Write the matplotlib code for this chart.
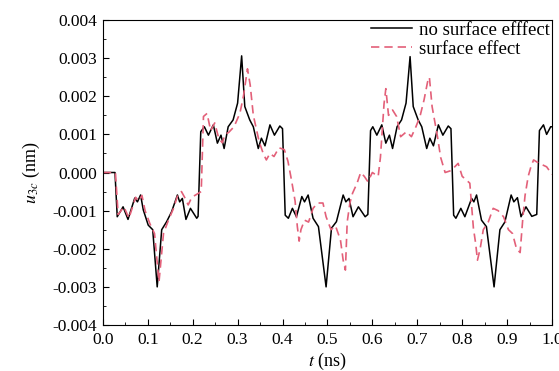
import matplotlib
matplotlib.use("Agg")
import matplotlib.pyplot as plt
from matplotlib.ticker import MultipleLocator

plt.rcParams["font.family"] = ["Liberation Serif", "DejaVu Serif"]
plt.rcParams["mathtext.fontset"] = "stix"
plt.rcParams["axes.unicode_minus"] = False

# no surface effect (black), u in 1e-3 nm
black_t = [0.000, 0.027, 0.032, 0.045, 0.056, 0.071, 0.077, 0.084, 0.090, 0.101,
           0.111, 0.121, 0.131, 0.142, 0.153, 0.166, 0.171, 0.177, 0.185, 0.195,
           0.209, 0.212, 0.218, 0.226, 0.235, 0.246, 0.255, 0.263, 0.270, 0.279,
           0.290, 0.300, 0.309, 0.316, 0.327, 0.335, 0.346, 0.353, 0.361, 0.372,
           0.382, 0.394, 0.400, 0.406, 0.413, 0.422, 0.431, 0.443, 0.449, 0.457,
           0.468, 0.480, 0.497, 0.509, 0.520, 0.535, 0.541, 0.548, 0.557, 0.569,
           0.584, 0.590, 0.596, 0.601, 0.610, 0.621, 0.630, 0.638, 0.645, 0.655,
           0.665, 0.675, 0.684, 0.691, 0.702, 0.710, 0.721, 0.728, 0.736, 0.747,
           0.757, 0.769, 0.775, 0.781, 0.786, 0.797, 0.806, 0.821, 0.826, 0.832,
           0.843, 0.854, 0.871, 0.884, 0.895, 0.909, 0.915, 0.923, 0.931, 0.942,
           0.955, 0.966, 0.972, 0.981, 0.988, 0.997, 1.000]
black_u = [0.00, 0.00, -1.16, -0.90, -1.23, -0.67, -0.77, -0.59, -0.98, -1.38,
           -1.50, -3.00, -1.50, -1.29, -1.03, -0.59, -0.77, -0.68, -1.23, -0.94,
           -1.20, -1.15, 1.07, 1.20, 0.98, 1.25, 0.77, 0.98, 0.63, 1.20,
           1.38, 1.82, 3.06, 1.73, 1.38, 1.20, 0.63, 0.90, 0.70, 1.25,
           0.98, 1.22, 1.15, -1.12, -1.20, -0.94, -1.16, -0.63, -0.77, -0.59,
           -1.20, -1.42, -3.00, -1.46, -1.29, -0.59, -0.77, -0.68, -1.16, -0.90,
           -1.16, -1.10, 1.10, 1.20, 0.98, 1.25, 0.77, 0.98, 0.63, 1.20,
           1.38, 1.82, 3.04, 1.73, 1.38, 1.20, 0.63, 0.90, 0.70, 1.25,
           0.98, 1.22, 1.15, -1.12, -1.20, -0.94, -1.16, -0.68, -0.77, -0.59,
           -1.25, -1.42, -3.00, -1.50, -1.30, -0.59, -0.77, -0.66, -1.16, -0.90,
           -1.15, -1.10, 1.10, 1.25, 1.00, 1.20, 1.20]

# surface effect (red dashed), u in 1e-3 nm
red_t = [0.000, 0.028, 0.034, 0.047, 0.058, 0.073, 0.080, 0.087, 0.094, 0.105,
         0.115, 0.125, 0.135, 0.146, 0.157, 0.168, 0.175, 0.182, 0.190, 0.198,
         0.212, 0.219, 0.224, 0.232, 0.240, 0.249, 0.258, 0.266, 0.272, 0.280,
         0.292, 0.305, 0.313, 0.322, 0.328, 0.335, 0.348, 0.357, 0.364, 0.372,
         0.381, 0.392, 0.404, 0.412, 0.420, 0.428, 0.433, 0.437, 0.441, 0.449,
         0.458, 0.468, 0.478, 0.490, 0.497, 0.508, 0.518, 0.529, 0.535, 0.540,
         0.544, 0.550, 0.556, 0.566, 0.574, 0.582, 0.590, 0.600, 0.613, 0.618,
         0.622, 0.626, 0.630, 0.636, 0.645, 0.654, 0.663, 0.676, 0.687, 0.697,
         0.706, 0.715, 0.723, 0.727, 0.733, 0.745, 0.752, 0.762, 0.775, 0.791,
         0.800, 0.817, 0.825, 0.830, 0.834, 0.840, 0.847, 0.858, 0.869, 0.880,
         0.892, 0.903, 0.912, 0.921, 0.929, 0.935, 0.940, 0.947, 0.953, 0.959,
         0.970, 0.988, 1.000]
red_u = [0.00, 0.00, -1.10, -0.90, -1.20, -0.65, -0.75, -0.60, -1.00, -1.35,
         -1.60, -2.87, -1.60, -1.25, -0.95, -0.55, -0.50, -0.65, -0.85, -0.65,
         -0.55, -0.50, 1.47, 1.55, 1.10, 1.30, 0.90, 0.78, 1.00, 1.05,
         1.20, 1.55, 2.00, 2.72, 2.30, 1.50, 0.81, 0.50, 0.33, 0.50,
         0.42, 0.65, 0.60, 0.30, -0.20, -0.75, -1.42, -1.80, -1.50, -1.25,
         -1.30, -0.94, -0.80, -0.80, -1.16, -1.50, -1.40, -1.77, -2.30, -2.56,
         -1.30, -0.80, -0.54, -0.28, 0.00, -0.10, -0.24, 0.00, -0.10, 0.40,
         1.10, 1.80, 2.20, 1.50, 1.64, 1.47, 0.94, 1.07, 0.94, 1.20,
         1.47, 1.90, 2.38, 2.50, 1.73, 0.94, 0.40, 0.00, 0.05, 0.24,
         -0.10, -0.28, -1.46, -1.86, -2.30, -2.00, -1.50, -1.30, -0.94, -1.00,
         -1.16, -1.50, -1.60, -2.00, -2.10, -1.20, -0.60, -0.10, 0.15, 0.33,
         0.25, 0.15, -0.05]

fig = plt.figure(figsize=(5.59, 3.71), dpi=100)
ax = fig.add_axes([0.184, 0.124, 0.8035, 0.822])

ax.plot(black_t, [v * 1e-3 for v in black_u], color="black", lw=1.1,
        label="no surface efffect")
ax.plot(red_t, [v * 1e-3 for v in red_u], color="#e36079", lw=1.2,
        dashes=(5, 3), label="surface effect")

ax.set_xlim(0, 1.0)
ax.set_ylim(-0.004, 0.004)
ax.xaxis.set_major_locator(MultipleLocator(0.1))
ax.xaxis.set_minor_locator(MultipleLocator(0.05))
ax.yaxis.set_major_locator(MultipleLocator(0.001))
ax.yaxis.set_minor_locator(MultipleLocator(0.0005))
ax.xaxis.set_major_formatter(plt.FormatStrFormatter("%.1f"))
ax.yaxis.set_major_formatter(plt.FormatStrFormatter("%.3f"))
ax.tick_params(which="both", direction="in", top=False, right=False,
               labelsize=12.5)
ax.tick_params(which="major", length=4)
ax.tick_params(axis="x", which="major", pad=5)
ax.tick_params(axis="y", which="major", pad=4)
ax.tick_params(which="minor", length=2.5)

ax.set_xlabel(r"$t$ (ns)", fontsize=13, labelpad=2)
ax.set_ylabel(r"$u_{3c}$ (nm)", fontsize=13, labelpad=8)

ax.legend(loc="upper right", frameon=False, fontsize=13.5,
          handlelength=2.2, borderaxespad=0.0, borderpad=0.1,
          labelspacing=0.1, handletextpad=0.4)

fig.savefig("out.png", dpi=100)
